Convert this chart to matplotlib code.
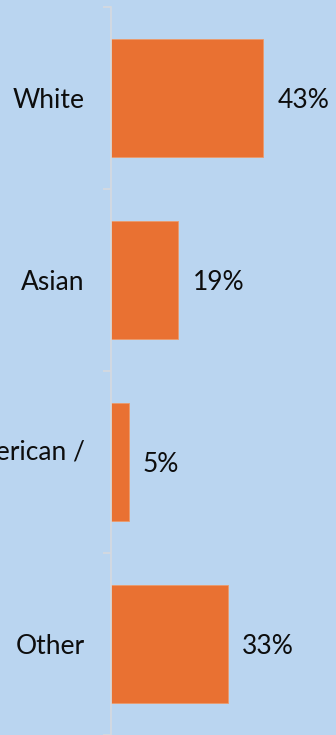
import matplotlib
matplotlib.use("Agg")
import matplotlib.pyplot as plt

categories = ["White", "Asian", "Black or African American /\nBlack", "Other"]
shares = [43, 19, 5, 33]
value_labels = ["43%", "19%", "5%", "33%"]

bg = "#BAD5F0"
bar_color = "#E97132"
axis_color = "#D6D9DE"

plt.rcParams["font.family"] = ["Lato", "DejaVu Sans"]

fig = plt.figure(figsize=(3.36, 7.35), dpi=100, facecolor=bg)
ax = fig.add_axes([111 / 336, 0.0, 1 - 111 / 336, 1 - 7 / 735])
ax.set_facecolor(bg)

n = len(categories)
ypos = list(range(n))
ax.barh(ypos, shares, height=0.65, color=bar_color, edgecolor="#EC9A6A",
        linewidth=0.6)

for y, v, lab in zip(ypos, shares, value_labels):
    ax.text(v + 4.0, y, lab, va="center_baseline", ha="left", fontsize=19,
            color="#0d0d0d")

ax.set_ylim(n - 0.5, -0.5)
ax.set_xlim(0, 225 / 3.54)

ax.set_yticks([i + 0.5 for i in range(-1, n)], minor=False)
ax.set_yticklabels([])
ax.tick_params(axis="y", which="major", length=6, width=1.2, color=axis_color)
ax.set_yticks(ypos, minor=True)
ax.set_yticklabels(categories, minor=True, fontsize=19, color="#0d0d0d",
                   multialignment="left", linespacing=1.95)
ax.tick_params(axis="y", which="minor", length=0, pad=19)

ax.set_xticks([])
for s in ["top", "right", "bottom"]:
    ax.spines[s].set_visible(False)
ax.spines["left"].set_color(axis_color)
ax.spines["left"].set_linewidth(1.2)

fig.savefig("out.png", dpi=100, facecolor=bg)
